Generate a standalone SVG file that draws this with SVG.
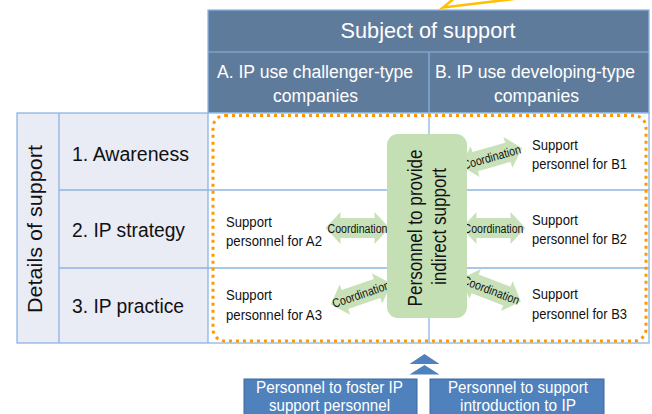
<svg xmlns="http://www.w3.org/2000/svg" width="652" height="414" viewBox="0 0 652 414">
<defs>
<style>
text{font-family:"Liberation Sans",Arial,sans-serif}
.hd{fill:#5F7B9B}
.grid{stroke:#8DB4E2;stroke-width:1.3;fill:none}
.wt{fill:#ffffff;text-anchor:middle}
.lbl{fill:#111;text-anchor:middle;font-size:20px}
.sp{fill:#111;font-size:15px}
.co{fill:#111;font-size:12.5px;text-anchor:middle}
.arr{fill:#C9E1B8}
.box{fill:#4F81BD;stroke:#3A679F;stroke-width:1}
</style>
<path id="dbl" d="M-32,0 L-17,-16 L-17,-10 L17,-10 L17,-16 L32,0 L17,16 L17,10 L-17,10 L-17,16 Z"/>
</defs>
<rect width="652" height="414" fill="#ffffff"/>
<polyline points="456,-3 443,7.5 530,-3" fill="none" stroke="#FFC000" stroke-width="2.5"/>

<g id="header">
<rect class="hd" x="208" y="10" width="441" height="103"/>
<line x1="208" y1="52" x2="649" y2="52" stroke="#8DB4E2" stroke-width="1.2"/>
<line x1="429" y1="52" x2="429" y2="113" stroke="#8DB4E2" stroke-width="1.2"/>
<rect class="grid" x="208" y="10" width="441" height="103"/>
<text class="wt" x="428" y="38" font-size="22" textLength="175" lengthAdjust="spacingAndGlyphs">Subject of support</text>
<text class="wt" x="315" y="77.5" font-size="18" textLength="196" lengthAdjust="spacingAndGlyphs">A. IP use challenger-type</text>
<text class="wt" x="315.5" y="101.5" font-size="18" textLength="85" lengthAdjust="spacingAndGlyphs">companies</text>
<text class="wt" x="535" y="77.5" font-size="18" textLength="200" lengthAdjust="spacingAndGlyphs">B. IP use developing-type</text>
<text class="wt" x="536.5" y="101.5" font-size="18" textLength="85" lengthAdjust="spacingAndGlyphs">companies</text>
</g>

<g id="table">
<rect x="17" y="113" width="191" height="230" fill="#E9EBF5"/>
<rect x="208" y="113" width="441" height="230" fill="#ffffff"/>
<line class="grid" x1="59" y1="190" x2="649" y2="190"/>
<line class="grid" x1="59" y1="268" x2="649" y2="268"/>
<line class="grid" x1="59" y1="113" x2="59" y2="343"/>
<line class="grid" x1="208" y1="113" x2="208" y2="343"/>
<line class="grid" x1="429" y1="113" x2="429" y2="343"/>
<rect class="grid" x="17" y="113" width="632" height="230"/>
<text class="lbl" transform="translate(42,229) rotate(-90)" font-size="21" textLength="168" lengthAdjust="spacingAndGlyphs">Details of support</text>
<text class="lbl" x="130.5" y="161" textLength="117" lengthAdjust="spacingAndGlyphs">1. Awareness</text>
<text class="lbl" x="128.5" y="237" textLength="113" lengthAdjust="spacingAndGlyphs">2. IP strategy</text>
<text class="lbl" x="128" y="313" textLength="112" lengthAdjust="spacingAndGlyphs">3. IP practice</text>
</g>

<rect id="scope" x="213" y="115.5" width="433" height="225.5" rx="12" fill="none" stroke="#FF9900" stroke-width="3" stroke-dasharray="3 4"/>

<g id="connectors">
<g transform="translate(357.5,228)"><use href="#dbl" class="arr"/><text class="co" y="4.5" textLength="60" lengthAdjust="spacingAndGlyphs">Coordination</text></g>
<g transform="translate(493.5,228)"><use href="#dbl" class="arr"/><text class="co" y="4.5" textLength="60" lengthAdjust="spacingAndGlyphs">Coordination</text></g>
<g transform="translate(491.5,157) rotate(-16)"><use href="#dbl" class="arr"/><text class="co" y="4.5" textLength="60" lengthAdjust="spacingAndGlyphs">Coordination</text></g>
<g transform="translate(361,294) rotate(-19)"><use href="#dbl" class="arr"/><text class="co" y="4.5" textLength="60" lengthAdjust="spacingAndGlyphs">Coordination</text></g>
<g transform="translate(491,290) rotate(21)"><use href="#dbl" class="arr"/><text class="co" y="4.5" textLength="60" lengthAdjust="spacingAndGlyphs">Coordination</text></g>
<polygon points="409.5,374.5 424.5,365 439.5,374.5" fill="#4F81BD"/>
<polygon points="409.5,364 424.5,354 439.5,364" fill="#4F81BD"/>
</g>

<g id="indirect">
<rect x="387" y="134" width="80" height="184" rx="11" fill="#C5DFB4"/>
<text class="lbl" transform="translate(422,228) rotate(-90)" font-size="20" textLength="157" lengthAdjust="spacingAndGlyphs">Personnel to provide</text>
<text class="lbl" transform="translate(446,226.5) rotate(-90)" font-size="20" textLength="117" lengthAdjust="spacingAndGlyphs">indirect support</text>
</g>

<g id="A2"><text class="sp" x="226" y="226.5" textLength="46" lengthAdjust="spacingAndGlyphs">Support</text><text class="sp" x="226" y="246" textLength="96" lengthAdjust="spacingAndGlyphs">personnel for A2</text></g>
<g id="A3"><text class="sp" x="226" y="300" textLength="46" lengthAdjust="spacingAndGlyphs">Support</text><text class="sp" x="226" y="320" textLength="96" lengthAdjust="spacingAndGlyphs">personnel for A3</text></g>
<g id="B1"><text class="sp" x="532" y="150" textLength="46" lengthAdjust="spacingAndGlyphs">Support</text><text class="sp" x="532" y="168.5" textLength="95" lengthAdjust="spacingAndGlyphs">personnel for B1</text></g>
<g id="B2"><text class="sp" x="532" y="225" textLength="46" lengthAdjust="spacingAndGlyphs">Support</text><text class="sp" x="532" y="244" textLength="95" lengthAdjust="spacingAndGlyphs">personnel for B2</text></g>
<g id="B3"><text class="sp" x="532" y="299" textLength="46" lengthAdjust="spacingAndGlyphs">Support</text><text class="sp" x="532" y="318.5" textLength="95" lengthAdjust="spacingAndGlyphs">personnel for B3</text></g>

<g id="foster">
<rect class="box" x="244" y="379" width="173" height="45"/>
<text class="wt" x="329.5" y="393" font-size="17" textLength="147" lengthAdjust="spacingAndGlyphs">Personnel to foster IP</text>
<text class="wt" x="329.5" y="411" font-size="17" textLength="121" lengthAdjust="spacingAndGlyphs">support personnel</text>
</g>
<g id="intro">
<rect class="box" x="430" y="379" width="174" height="45"/>
<text class="wt" x="518" y="393" font-size="17" textLength="140" lengthAdjust="spacingAndGlyphs">Personnel to support</text>
<text class="wt" x="518" y="411" font-size="17" textLength="116" lengthAdjust="spacingAndGlyphs">introduction to IP</text>
</g>
</svg>
